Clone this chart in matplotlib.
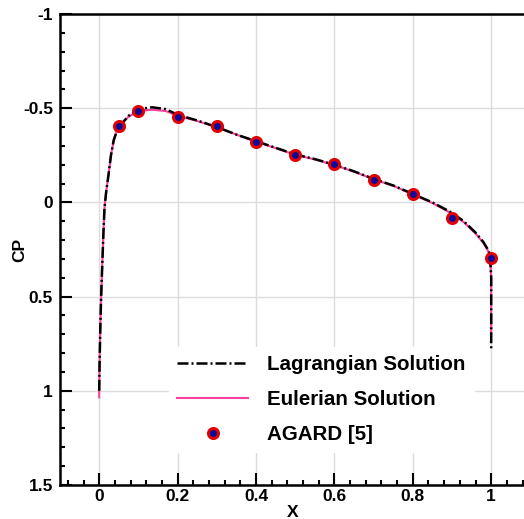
import numpy as np
import matplotlib
matplotlib.use("Agg")
import matplotlib.pyplot as plt
from matplotlib.ticker import MultipleLocator, FuncFormatter

plt.rcParams['font.family'] = ['Liberation Sans', 'DejaVu Sans']
plt.rcParams['axes.unicode_minus'] = False

# Lagrangian solution (black dash-dot)
lag_x = [0.0, 0.001, 0.003, 0.005, 0.008, 0.011, 0.0135, 0.018, 0.024, 0.030, 0.037,
         0.045, 0.05, 0.075, 0.10, 0.135, 0.17, 0.20, 0.25, 0.30, 0.35, 0.40, 0.45,
         0.50, 0.55, 0.60, 0.65, 0.70, 0.75, 0.80, 0.85, 0.90, 0.93, 0.96, 0.98,
         0.99, 0.997, 1.0, 1.0, 1.0]
lag_cp = [1.0, 0.85, 0.65, 0.50, 0.32, 0.15, 0.03, -0.06, -0.15, -0.25, -0.33,
          -0.38, -0.40, -0.46, -0.495, -0.505, -0.495, -0.465, -0.435, -0.40, -0.36,
          -0.325, -0.29, -0.255, -0.23, -0.20, -0.165, -0.125, -0.09, -0.045, 0.0,
          0.055, 0.10, 0.16, 0.21, 0.245, 0.275, 0.40, 0.60, 0.78]

# Eulerian solution (pink)
eul_x = [0.0, 0.0, 0.001, 0.003, 0.005, 0.008, 0.011, 0.0135, 0.018, 0.024, 0.030,
         0.037, 0.045, 0.05, 0.075, 0.10, 0.135, 0.17, 0.20, 0.25, 0.30, 0.35, 0.40,
         0.45, 0.50, 0.55, 0.60, 0.65, 0.70, 0.75, 0.80, 0.85, 0.90, 0.93, 0.96,
         0.98, 0.99, 0.997, 1.0, 1.0, 1.0]
eul_cp = [1.035, 1.0, 0.85, 0.65, 0.50, 0.32, 0.15, 0.03, -0.06, -0.15, -0.25,
          -0.33, -0.38, -0.40, -0.455, -0.485, -0.492, -0.485, -0.46, -0.432, -0.40,
          -0.36, -0.322, -0.288, -0.253, -0.228, -0.198, -0.163, -0.123, -0.088,
          -0.043, 0.003, 0.06, 0.105, 0.165, 0.215, 0.25, 0.28, 0.40, 0.58, 0.70]

# AGARD [5] reference points
agard_x = [0.05, 0.1, 0.2, 0.3, 0.4, 0.5, 0.6, 0.7, 0.8, 0.9, 1.0]
agard_cp = [-0.403, -0.483, -0.453, -0.403, -0.322, -0.251, -0.202, -0.120, -0.042, 0.081, 0.294]

fig = plt.figure(figsize=(5.24, 5.19), dpi=100)
ax = fig.add_axes([0.1145, 0.0655, 0.8977, 0.9075])

ax.plot(eul_x, eul_cp, color='#ff3f9f', lw=1.5, label='Eulerian Solution', zorder=3)
ax.plot(lag_x, lag_cp, color='black', lw=1.8, dashes=[4.4, 1.2, 0.8, 1.2],
        label='Lagrangian Solution', zorder=4)
ax.plot(agard_x, agard_cp, ls='none', marker='o', ms=7.2, mew=2.2,
        mfc='#0a0a9a', mec='#e00000', label='AGARD [5]', zorder=5)

ax.set_xlim(-0.1, 1.1)
ax.set_ylim(1.5, -1.0)

ax.xaxis.set_major_locator(MultipleLocator(0.2))
ax.xaxis.set_minor_locator(MultipleLocator(0.04))
ax.yaxis.set_major_locator(MultipleLocator(0.5))
ax.yaxis.set_minor_locator(MultipleLocator(0.1))
fmt = FuncFormatter(lambda v, p: f"{v:g}" if abs(v) > 1e-9 else "0")
ax.xaxis.set_major_formatter(fmt)
ax.yaxis.set_major_formatter(fmt)

ax.grid(True, which='major', color='#dcdcdc', lw=1.0, zorder=0)
ax.set_axisbelow(True)

for s in ax.spines.values():
    s.set_linewidth(1.8)
ax.tick_params(which='both', direction='in', top=False, right=False, width=1.5)
ax.tick_params(which='major', length=8.6, labelsize=12.5)
ax.tick_params(which='minor', length=3.6)
ax.tick_params(axis='y', pad=5)
ax.tick_params(axis='x', pad=3)
for lbl in ax.get_xticklabels() + ax.get_yticklabels():
    lbl.set_fontweight('bold')

ax.set_xlabel('X', fontsize=12.5, fontweight='bold')
ax.set_ylabel('CP', fontsize=12.5, fontweight='bold')
ax.xaxis.set_label_coords(0.495, -0.042)
ax.yaxis.set_label_coords(-0.070, 0.499)

handles, labels = ax.get_legend_handles_labels()
order = [1, 0, 2]
leg = ax.legend([handles[i] for i in order], [labels[i] for i in order],
                loc='upper left', bbox_to_anchor=(0.232, 0.294), borderaxespad=0,
                borderpad=0.4, handlelength=3.45, handletextpad=0.92, labelspacing=0.78,
                numpoints=1, frameon=True, fancybox=False, framealpha=1,
                facecolor='white', edgecolor='white',
                prop={'size': 14.8, 'weight': 'bold'})

fig.savefig('out.png', dpi=100)
